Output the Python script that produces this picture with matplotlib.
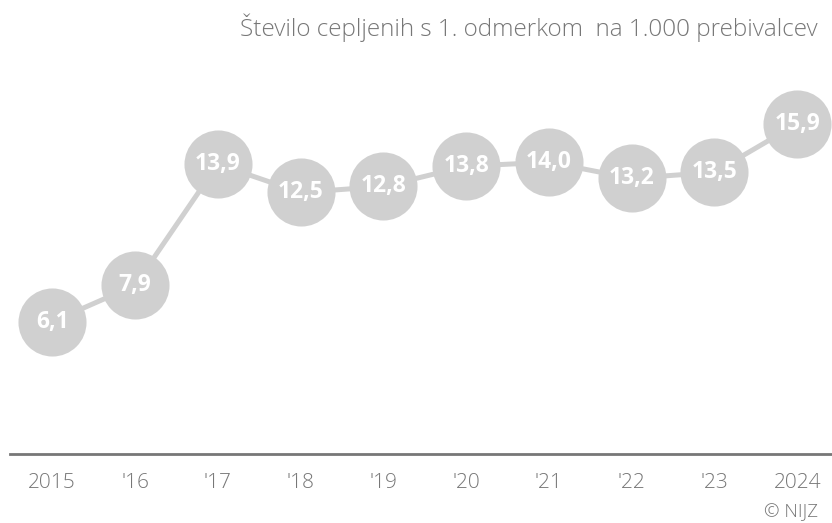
import matplotlib
matplotlib.use('Agg')
import matplotlib.pyplot as plt

plt.rcParams['font.family'] = ['Open Sans', 'DejaVu Sans']

### Data
years = [2015, 2016, 2017, 2018, 2019, 2020, 2021, 2022, 2023, 2024]
tick_labels = ['2015', "'16", "'17", "'18", "'19", "'20", "'21", "'22", "'23", '2024']
values = [6.1, 7.9, 13.9, 12.5, 12.8, 13.8, 14.0, 13.2, 13.5, 15.9]

grey = '#d0d0d0'
text_grey = '#777777'

fig = plt.figure(figsize=(8.32, 5.23), dpi=100)
ax = fig.add_axes([10/832, 69/523, 822/832, 352.4/523])

ax.plot(years, values, color=grey, lw=3.6, zorder=1, solid_capstyle='round')
ax.scatter(years, values, s=49**2, color=grey, zorder=2, clip_on=False, linewidths=0)
for x, v in zip(years, values):
	ax.text(x, v, f'{v:.1f}'.replace('.', ','), ha='center', va='center',
		color='white', fontsize=16.5, fontweight='bold', zorder=3)

ax.set_xlim(2014.49, 2024.42)
ax.set_ylim(-0.45, 17)

### Only the bottom axis line stays
for side in ['left', 'right', 'top']:
	ax.spines[side].set_visible(False)
ax.spines['bottom'].set_color(text_grey)
ax.spines['bottom'].set_linewidth(2)
ax.set_yticks([])
ax.set_xticks(years)
ax.set_xticklabels(tick_labels, fontweight='light')
ax.tick_params(axis='x', length=0, pad=14, labelsize=15, labelcolor=text_grey)

fig.text(818/832, 1 - 28/523, 'Število cepljenih s 1. odmerkom  na 1.000 prebivalcev',
	ha='right', va='center', fontsize=17.5, color=text_grey, fontweight='light')
fig.text(818/832, 1 - 512/523, '© NIJZ', ha='right', va='center',
	fontsize=13.5, color=text_grey, fontweight='light')

fig.savefig('out.png', dpi=100)
